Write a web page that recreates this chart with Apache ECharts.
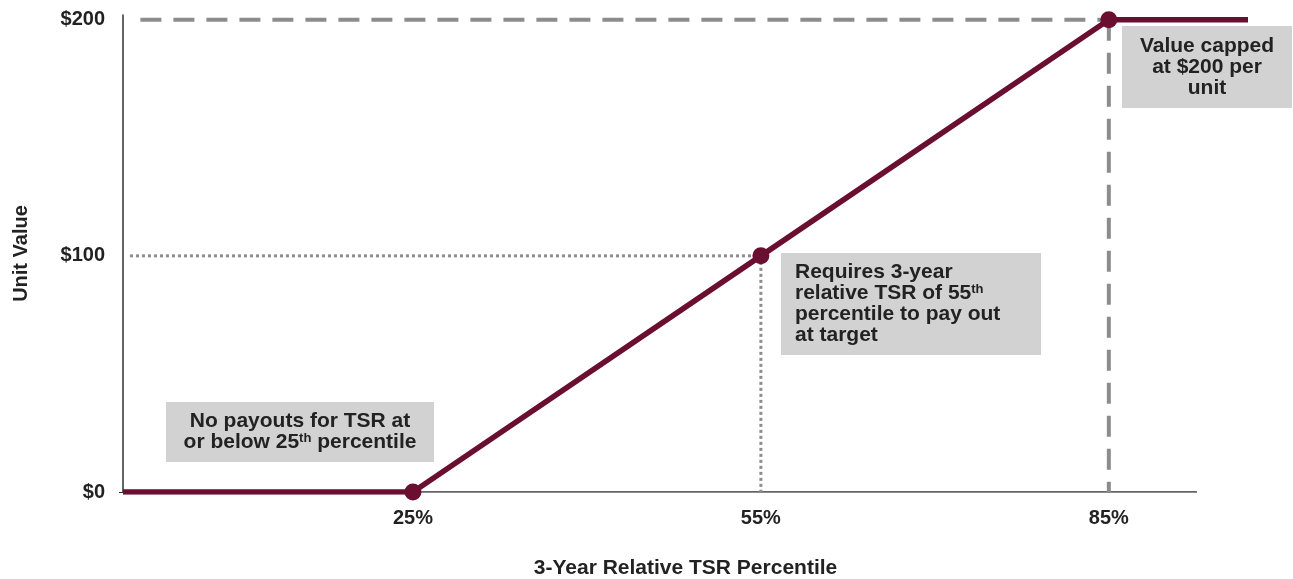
<!DOCTYPE html>
<html>
<head>
<meta charset="utf-8">
<script src="https://cdn.jsdelivr.net/npm/echarts@6/dist/echarts.min.js"></script>
<style>
  html, body { margin: 0; padding: 0; background: #fff; }
  #chart { width: 1293px; height: 579px; }
</style>
</head>
<body>
<div id="chart"></div>
<script>
// Payout curve: unit value vs. 3-year relative TSR percentile
const percentiles = [0, 25, 55, 85, 97];
const unitValues  = [0, 0, 100, 200, 200];
const markedPercentiles = [25, 55, 85];
const xTickValues = [25, 55, 85];
const yTickValues = [0, 100, 200];

// Horizontal axis baseline stops short of the flat tail of the curve
const baselineEnd = 92.6;

// Reference guides: target (dotted) and cap (dashed)
const targetGuide = { x: 55, y: 100, xStart: 0.6 };
const capGuide    = { x: 85, y: 200, xStart: 1.5 };

const FONT = 'Liberation Sans, Arial, sans-serif';
const LINE_COLOR = '#6a0f2f';
const GUIDE_COLOR = '#8c8c8c';
const AXIS_COLOR = '#333';
const BOX_COLOR = '#d2d2d2';

const chart = echarts.init(document.getElementById('chart'));

const curve = percentiles.map((p, i) => ({
  value: [p, unitValues[i]],
  symbolSize: markedPercentiles.includes(p) ? 17 : 0
}));

const boxText = {
  fontFamily: FONT,
  fontWeight: 'bold',
  fontSize: 21,
  lineHeight: 21,
  fill: '#222',
  rich: {
    sup: { fontSize: 13, fontWeight: 'bold', fontFamily: FONT, verticalAlign: 'top', lineHeight: 14, fill: '#222' }
  }
};

function box(x, y, w, h) {
  return { type: 'rect', shape: { x: x, y: y, width: w, height: h }, style: { fill: BOX_COLOR }, z: 1 };
}

function guide(points, width, dash) {
  return {
    type: 'line',
    silent: true,
    symbol: 'none',
    data: points,
    lineStyle: { color: GUIDE_COLOR, width: width, type: dash },
    z: 2
  };
}

chart.setOption({
  animation: false,
  grid: { left: 123, right: 45, top: 15, bottom: 87, outerBoundsMode: 'none', containLabel: false },
  xAxis: {
    type: 'value',
    min: 0,
    max: 97,
    splitLine: { show: false },
    axisLine: { show: false },
    axisTick: { show: false },
    axisLabel: {
      customValues: xTickValues,
      formatter: v => v + '%',
      margin: 16,
      fontFamily: FONT, fontWeight: 'bold', fontSize: 20, color: '#222'
    },
    name: '3-Year Relative TSR Percentile',
    nameLocation: 'middle',
    nameGap: 66,
    nameTextStyle: { fontFamily: FONT, fontWeight: 'bold', fontSize: 21, color: '#222' }
  },
  yAxis: {
    type: 'value',
    min: 0,
    max: 202,
    splitLine: { show: false },
    axisLine: { show: true, lineStyle: { color: AXIS_COLOR, width: 1.5 } },
    axisTick: { show: true, customValues: [0], length: 4, lineStyle: { color: AXIS_COLOR } },
    axisLabel: {
      customValues: yTickValues,
      formatter: v => '$' + v,
      margin: 18,
      fontFamily: FONT, fontWeight: 'bold', fontSize: 20, color: '#222'
    },
    name: 'Unit Value',
    nameLocation: 'middle',
    nameRotate: 90,
    nameGap: 92,
    nameTextStyle: { fontFamily: FONT, fontWeight: 'bold', fontSize: 20, color: '#222' }
  },
  series: [
    {
      name: 'baseline',
      type: 'line',
      silent: true,
      symbol: 'none',
      data: [[0, 0], [baselineEnd, 0]],
      lineStyle: { color: AXIS_COLOR, width: 1.5 },
      z: 1
    },
    guide([[targetGuide.xStart, targetGuide.y], [targetGuide.x, targetGuide.y]], 3, [3, 3]),
    guide([[targetGuide.x, targetGuide.y], [targetGuide.x, 0]], 3, [3, 3]),
    guide([[capGuide.xStart, capGuide.y], [capGuide.x, capGuide.y]], 4, [21, 12]),
    guide([[capGuide.x, capGuide.y], [capGuide.x, 0]], 4, [21, 12]),
    {
      name: 'Unit Value',
      type: 'line',
      symbol: 'circle',
      data: curve,
      lineStyle: { color: LINE_COLOR, width: 5.5 },
      itemStyle: { color: LINE_COLOR },
      z: 5
    }
  ],
  graphic: [
    box(166, 402, 268, 60),
    {
      type: 'text', x: 300, y: 432, z: 3,
      style: Object.assign({}, boxText, {
        text: 'No payouts for TSR at\nor below 25{sup|th} percentile',
        align: 'center', verticalAlign: 'middle'
      })
    },
    box(781, 253, 260, 102),
    {
      type: 'text', x: 795, y: 304, z: 3,
      style: Object.assign({}, boxText, {
        text: 'Requires 3-year\nrelative TSR of 55{sup|th}\npercentile to pay out\nat target',
        align: 'left', verticalAlign: 'middle'
      })
    },
    box(1122, 26, 170, 82),
    {
      type: 'text', x: 1207, y: 67, z: 3,
      style: Object.assign({}, boxText, {
        text: 'Value capped\nat $200 per\nunit',
        align: 'center', verticalAlign: 'middle'
      })
    }
  ]
});
</script>
</body>
</html>
